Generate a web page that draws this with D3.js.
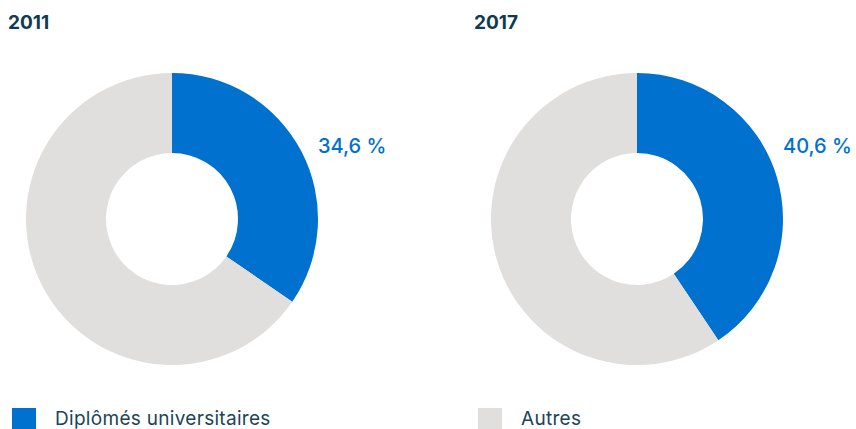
<!DOCTYPE html>
<html>
<head>
<meta charset="utf-8">
<script src="https://cdn.jsdelivr.net/npm/d3@7"></script>
<style>
  body { margin: 0; background: #fff; }
  svg { display: block; font-family: Inter, "Noto Sans", sans-serif; }
</style>
</head>
<body>
<svg id="chart" width="856" height="429"></svg>
<script>
// data
const years = ["2011", "2017"];
const categories = ["Diplômés universitaires", "Autres"];
const shareGrads = [34.6, 40.6];
const valueLabels = ["34,6 %", "40,6 %"];

const colors = ["#0071ce", "#e0dfde"];
const svg = d3.select("#chart");

const color = d3.scaleOrdinal().domain(categories).range(colors);
const pie = d3.pie().sort(null).value(d => d.value);
const arc = d3.arc().innerRadius(66).outerRadius(146);

const centersX = [172, 637];
const cy = 219;

years.forEach((yr, i) => {
  const data = [
    { cat: categories[0], value: shareGrads[i] },
    { cat: categories[1], value: 100 - shareGrads[i] }
  ];

  // year heading
  svg.append("text")
    .attr("x", i === 0 ? 8 : 474)
    .attr("y", 29)
    .attr("fill", "#0e3b52")
    .style("font-size", "19px")
    .style("font-weight", "700")
    .text(yr);

  const g = svg.append("g").attr("transform", `translate(${centersX[i]}, ${cy})`);

  g.selectAll("path")
    .data(pie(data))
    .enter()
    .append("path")
    .attr("d", arc)
    .attr("fill", d => color(d.data.cat));

  // percentage label next to the blue slice
  svg.append("text")
    .attr("x", centersX[i] + 146)
    .attr("y", 153)
    .attr("fill", "#0071ce")
    .style("font-size", "20px")
    .style("font-weight", "500")
    .text(valueLabels[i]);
});

// legend
const legendX = [12, 478];
categories.forEach((c, i) => {
  svg.append("rect")
    .attr("x", legendX[i])
    .attr("y", 408)
    .attr("width", 24)
    .attr("height", 24)
    .attr("fill", color(c));

  svg.append("text")
    .attr("x", legendX[i] + 43)
    .attr("y", 425)
    .attr("fill", "#1b4457")
    .style("font-size", "19px")
    .style("letter-spacing", "0.3px")
    .text(c);
});
</script>
</body>
</html>
